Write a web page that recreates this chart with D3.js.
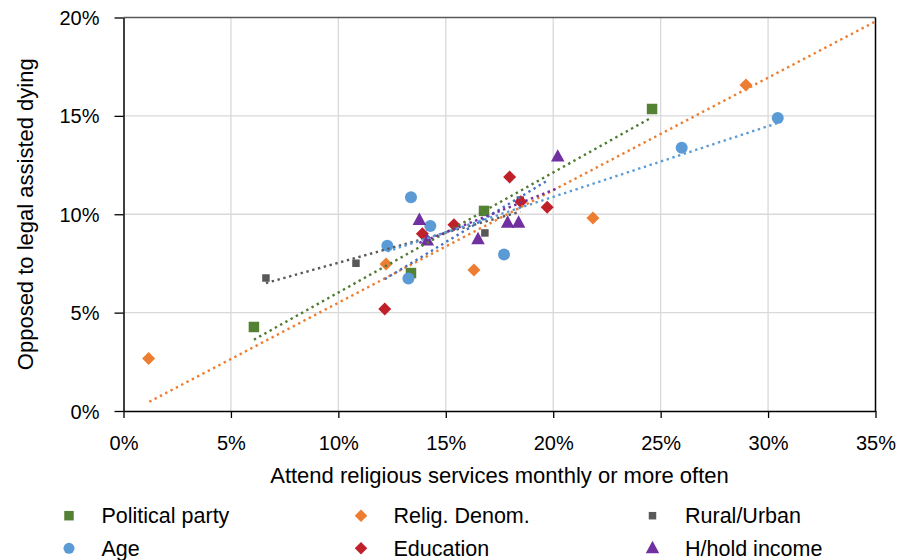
<!DOCTYPE html>
<html>
<head>
<meta charset="utf-8">
<script src="https://cdn.jsdelivr.net/npm/d3@7"></script>
<style>
  body { margin: 0; background: #fff; }
  text { font-family: "Liberation Sans", Arial, sans-serif; fill: #000; }
</style>
</head>
<body>
<div id="chart"></div>
<script>
// values (percent)
var politicalX = [6.07, 13.38, 16.78, 24.6];
var politicalY = [4.27, 7.01, 10.17, 15.35];
var religX = [1.17, 12.22, 16.31, 21.85, 28.97];
var religY = [2.67, 7.47, 7.17, 9.81, 16.57];
var ruralX = [6.63, 10.82, 16.82, 18.47];
var ruralY = [6.76, 7.51, 9.05, 10.72];
var ageX = [12.28, 13.26, 13.38, 14.28, 17.71, 25.98, 30.45];
var ageY = [8.40, 6.74, 10.86, 9.40, 7.96, 13.38, 14.89];
var educationX = [12.16, 13.91, 15.38, 17.97, 18.49, 19.72];
var educationY = [5.18, 9.01, 9.47, 11.89, 10.64, 10.35];
var incomeX = [13.77, 14.14, 16.50, 17.88, 18.39, 20.21];
var incomeY = [9.71, 8.66, 8.73, 9.57, 9.57, 12.93];
// the Relig. Denom. trendline in the picture is not a fit of its own points, so it is read off too
var religTrendX = [1.2, 35];
var religTrendY = [0.47, 19.8];

var xTicks = [0, 5, 10, 15, 20, 25, 30, 35];
var yTicks = [0, 5, 10, 15, 20];
var seriesNames = ['Political party', 'Relig. Denom.', 'Rural/Urban', 'Age', 'Education', 'H/hold income'];

var width = 906, height = 560;
var svg = d3.select('#chart').append('svg')
  .attr('width', width)
  .attr('height', height);

var x = d3.scaleLinear().domain([0, 35]).range([123.5, 875.5]);
var y = d3.scaleLinear().domain([0, 20]).range([411, 17.5]);

// marker shapes, size = full width in px
var shapes = {
  square: function(s) { var h = s / 2; return 'M' + (-h) + ',' + (-h) + 'h' + s + 'v' + s + 'h' + (-s) + 'Z'; },
  diamond: function(s) { var h = s / 2; return 'M0,' + (-h) + 'L' + h + ',0L0,' + h + 'L' + (-h) + ',0Z'; },
  circle: function(s) { var r = s / 2; return 'M' + r + ',0A' + r + ',' + r + ' 0 1,1 ' + (-r) + ',0A' + r + ',' + r + ' 0 1,1 ' + r + ',0Z'; },
  triangle: function(s) { var h = s * 0.92; return 'M0,' + (-h * 0.6) + 'L' + (s / 2) + ',' + (h * 0.4) + 'L' + (-s / 2) + ',' + (h * 0.4) + 'Z'; }
};

var series = [
  { name: seriesNames[0], xs: politicalX, ys: politicalY, color: '#548235', trend: '#4f7b30', shape: 'square', size: 10.5, legendSize: 9.5 },
  { name: seriesNames[1], xs: religX, ys: religY, color: '#ED7D31', trend: '#ED7D31', shape: 'diamond', size: 13, legendSize: 12.5, trendX: religTrendX, trendY: religTrendY },
  { name: seriesNames[2], xs: ruralX, ys: ruralY, color: '#595959', trend: '#595959', shape: 'square', size: 7.5, legendSize: 7.5 },
  { name: seriesNames[3], xs: ageX, ys: ageY, color: '#5B9BD5', trend: '#5B9BD5', shape: 'circle', size: 12, legendSize: 11 },
  { name: seriesNames[4], xs: educationX, ys: educationY, color: '#C0202A', trend: '#4472C4', shape: 'diamond', size: 13, legendSize: 12.5 },
  { name: seriesNames[5], xs: incomeX, ys: incomeY, color: '#7030A0', trend: '#7030A0', shape: 'triangle', size: 13.5, legendSize: 13.5 }
];

// gridlines
svg.append('g').selectAll('line.v')
  .data(xTicks.slice(1, -1))
  .enter().append('line')
  .attr('x1', function(d) { return x(d); }).attr('x2', function(d) { return x(d); })
  .attr('y1', y(0)).attr('y2', y(20))
  .attr('stroke', '#d9d9d9').attr('stroke-width', 1.3);
svg.append('g').selectAll('line.h')
  .data(yTicks.slice(1, -1))
  .enter().append('line')
  .attr('x1', x(0)).attr('x2', x(35))
  .attr('y1', function(d) { return y(d); }).attr('y2', function(d) { return y(d); })
  .attr('stroke', '#d9d9d9').attr('stroke-width', 1.3);

// plot frame top and right
svg.append('line').attr('x1', x(0)).attr('x2', x(35)).attr('y1', y(20)).attr('y2', y(20))
  .attr('stroke', '#595959').attr('stroke-width', 1.5);
svg.append('line').attr('x1', x(35)).attr('x2', x(35)).attr('y1', y(20)).attr('y2', y(0))
  .attr('stroke', '#000').attr('stroke-width', 1.5);

// axes
var xAxis = svg.append('g')
  .attr('transform', 'translate(0,' + y(0) + ')')
  .call(d3.axisBottom(x).tickValues(xTicks).tickSize(7).tickSizeOuter(0)
    .tickFormat(function(d) { return d + '%'; }));
var yAxis = svg.append('g')
  .attr('transform', 'translate(' + x(0) + ',0)')
  .call(d3.axisLeft(y).tickValues(yTicks).tickSize(9).tickSizeOuter(0)
    .tickFormat(function(d) { return d + '%'; }));
[xAxis, yAxis].forEach(function(a) {
  a.select('.domain').attr('stroke', '#000').attr('stroke-width', 1.5);
  a.selectAll('.tick line').attr('stroke', '#000').attr('stroke-width', 1.3);
  a.selectAll('.tick text').style('font-size', '20px').attr('fill', '#000')
    .style('font-family', '"Liberation Sans", Arial, sans-serif');
});
xAxis.selectAll('.tick text').attr('y', 0).attr('dy', 0).attr('transform', 'translate(0,39)');
yAxis.selectAll('.tick text').attr('x', -24).attr('dy', '0.35em');

// markers
series.forEach(function(s) {
  svg.append('g').selectAll('path')
    .data(s.xs.map(function(v, i) { return [v, s.ys[i]]; }))
    .enter().append('path')
    .attr('d', shapes[s.shape](s.size))
    .attr('transform', function(d) { return 'translate(' + x(d[0]) + ',' + y(d[1]) + ')'; })
    .attr('fill', s.color);
});

// linear trendlines over each series' x range
var line = d3.line().x(function(d) { return x(d[0]); }).y(function(d) { return y(d[1]); });
series.forEach(function(s) {
  var pts;
  if (s.trendX) {
    pts = [[s.trendX[0], s.trendY[0]], [s.trendX[1], s.trendY[1]]];
  } else {
    var mx = d3.mean(s.xs), my = d3.mean(s.ys);
    var sxy = d3.sum(s.xs, function(v, i) { return (v - mx) * (s.ys[i] - my); });
    var sxx = d3.sum(s.xs, function(v) { return (v - mx) * (v - mx); });
    var b = sxy / sxx, a = my - b * mx;
    var x0 = d3.min(s.xs), x1 = d3.max(s.xs);
    pts = [[x0, a + b * x0], [x1, a + b * x1]];
  }
  svg.append('path')
    .attr('d', line(pts))
    .attr('fill', 'none')
    .attr('stroke', s.trend)
    .attr('stroke-width', 2.4)
    .attr('stroke-dasharray', '2.4 3.6');
});

// axis titles
svg.append('text')
  .attr('x', (x(0) + x(35)) / 2).attr('y', 483)
  .attr('text-anchor', 'middle')
  .style('font-size', '22px')
  .text('Attend religious services monthly or more often');
svg.append('text')
  .attr('transform', 'translate(33,' + (y(0) + y(20)) / 2 + ') rotate(-90)')
  .attr('text-anchor', 'middle')
  .style('font-size', '22px')
  .text('Opposed to legal assisted dying');

// legend, 3 columns x 2 rows
var legendCols = [69, 361, 652.5];
var legendRows = [515.7, 548.3];
var legend = svg.selectAll('.legend')
  .data(series)
  .enter().append('g')
  .attr('class', 'legend')
  .attr('transform', function(d, i) {
    return 'translate(' + legendCols[i % 3] + ',' + legendRows[Math.floor(i / 3)] + ')';
  });
legend.append('path')
  .attr('d', function(d) { return shapes[d.shape](d.legendSize); })
  .attr('fill', function(d) { return d.color; });
legend.append('text')
  .attr('x', 32.5)
  .attr('y', 7.6)
  .style('font-size', '21.5px')
  .text(function(d) { return d.name; });
</script>
</body>
</html>
